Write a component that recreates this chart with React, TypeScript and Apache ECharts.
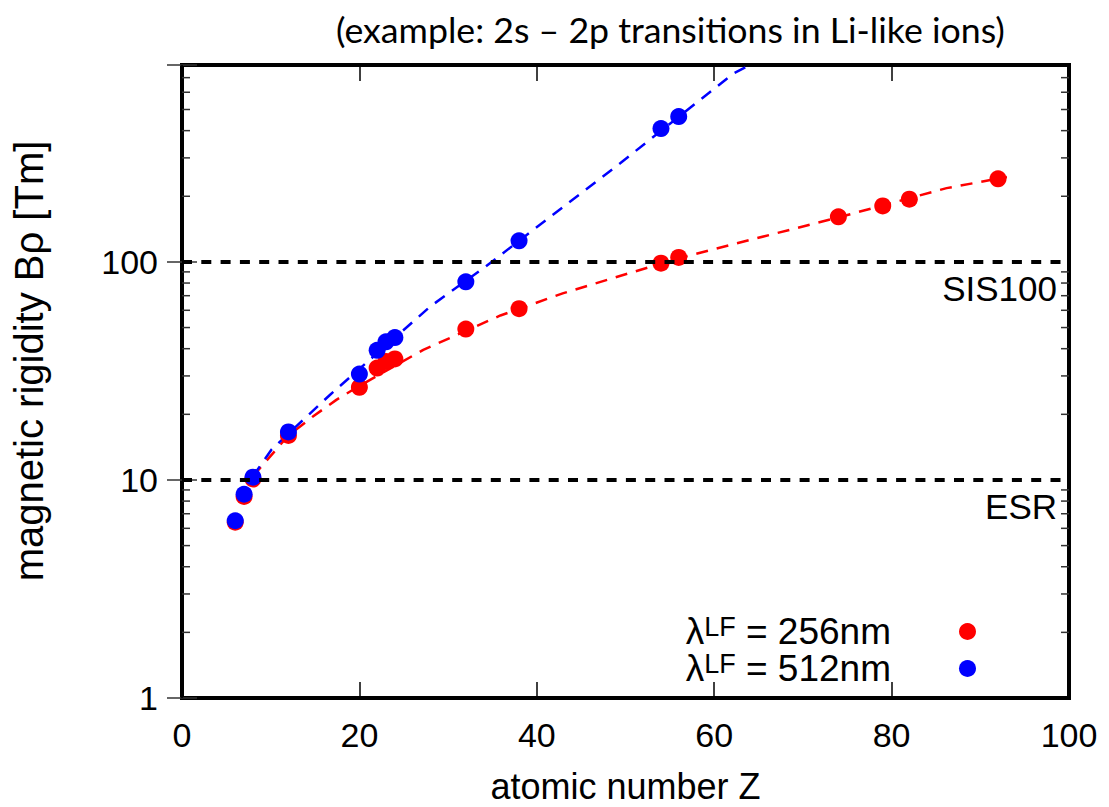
import React, { useEffect, useRef } from 'react';
import * as echarts from 'echarts';

const titleText = '(example: 2s – 2p transitions in Li-like ions)';
const xAxisName = 'atomic number Z';
const yAxisName = 'magnetic rigidity Bρ [Tm]';

const yMinorTicks = [2, 3, 4, 5, 6, 7, 8, 9, 20, 30, 40, 50, 60, 70, 80, 90, 200, 300, 400, 500, 600, 700];

const seriesNames = ['λLF = 256nm', 'λLF = 512nm'];
const legendValues = ['256nm', '512nm'];

// 256 nm laser (red)
const redZ = [6, 7, 8, 12, 20, 22, 23, 24, 32, 38, 54, 56, 74, 79, 82, 92];
const redB = [6.4, 8.4, 10.1, 16.0, 26.6, 32.6, 34.9, 35.9, 49.2, 61.0, 98.7, 104.8, 160.9, 180.7, 194.0, 240.4];

// 512 nm laser (blue)
const blueZ = [6, 7, 8, 12, 20, 22, 23, 24, 32, 38, 54, 56];
const blueB = [6.5, 8.6, 10.3, 16.6, 30.6, 39.3, 43.0, 45.0, 81.0, 124.9, 408.7, 463.9];

// dashed fit curves
const redFitZ = [8, 12, 14.8, 17.4, 20, 27.2, 35.9, 43, 56, 64, 74, 86.2, 93];
const redFitB = [10.4, 16.0, 19.6, 23.3, 27.0, 39.5, 56.8, 71.9, 104, 126, 160, 218, 245];
const blueFitZ = [8, 10.1, 16.7, 28, 34, 49.4, 62.2, 64];
const blueFitB = [10.4, 13.8, 24.6, 62.5, 93.7, 283.6, 733, 800];

const refLevels = [100, 10];
const refNames = ['SIS100', 'ESR'];

const FONT = 'Liberation Sans, Arial, Helvetica, sans-serif';

const zip = (xs: number[], ys: number[]) => xs.map((x, i) => [x, ys[i]]);

export default function App() {
  const ref = useRef<HTMLDivElement>(null);

  useEffect(() => {
    if (!ref.current) return;
    const chart = echarts.init(ref.current, undefined, { renderer: 'svg' });

    const isPow10 = (v: number) => Math.abs(Math.log10(v) - Math.round(Math.log10(v))) < 1e-6 && v < 500;

    const xAxisBase = {
      type: 'value',
      min: 0,
      max: 100,
      interval: 20,
      axisLine: { show: false },
      axisTick: { show: true, inside: true, length: 16, lineStyle: { color: '#000', width: 1.5 } },
      splitLine: { show: false },
    };
    const yAxisBase = {
      type: 'log',
      logBase: 10,
      min: 1,
      max: 800,
      axisLine: { show: false },
      axisTick: { show: true, inside: true, length: 15, lineStyle: { color: '#333', width: 1.5 } },
      splitLine: { show: false },
      minorTick: { show: false },
    };

    const option: any = {
      animation: false,
      backgroundColor: '#fff',
      title: {
        text: titleText,
        left: 331,
        top: 6,
        textStyle: { fontFamily: 'Lato, Open Sans, sans-serif', fontSize: 35.7, fontWeight: 'normal', color: '#000' },
      },
      grid: {
        left: 182,
        right: 40,
        top: 65,
        bottom: 109,
        show: true,
        borderColor: '#000',
        borderWidth: 4,
        backgroundColor: 'transparent',
        outerBoundsMode: 'none',
        containLabel: false,
      },
      legend: {
        data: seriesNames,
        orient: 'vertical',
        right: 128,
        top: 608,
        align: 'right',
        icon: 'circle',
        itemWidth: 17,
        itemHeight: 17,
        itemGap: 0,
        selectedMode: false,
        formatter: (name: string) => {
          const i = seriesNames.indexOf(name);
          return `{a|λ}{s|LF}{b| = ${legendValues[i]}}{g|}`;
        },
        textStyle: {
          color: '#000',
          fontFamily: FONT,
          rich: {
            a: { fontSize: 37, lineHeight: 37, fontFamily: FONT, color: '#000' },
            s: { fontSize: 27, lineHeight: 6, verticalAlign: 'top', fontFamily: FONT, color: '#000' },
            b: { fontSize: 37, lineHeight: 37, fontFamily: FONT, color: '#000' },
            g: { width: 63 },
          },
        },
      },
      xAxis: [
        {
          ...xAxisBase,
          position: 'bottom',
          name: xAxisName,
          nameLocation: 'middle',
          nameGap: 75,
          nameTextStyle: { fontSize: 36, lineHeight: 26, fontFamily: FONT, color: '#000' },
          axisLabel: { show: true, fontSize: 34, fontFamily: FONT, color: '#000', margin: 20 },
        },
        {
          ...xAxisBase,
          position: 'top',
          axisLabel: { show: false },
        },
      ],
      yAxis: [
        {
          ...yAxisBase,
          position: 'left',
          name: yAxisName,
          nameLocation: 'middle',
          nameGap: 133,
          nameTextStyle: { fontSize: 40, fontFamily: FONT, color: '#000', padding: [0, 0, 0, 41] },
          axisLabel: {
            show: true,
            fontSize: 34,
            fontFamily: FONT,
            color: '#000',
            margin: 24,
            formatter: (v: number) => (isPow10(v) ? String(Math.round(v)) : ''),
          },
        },
        {
          ...yAxisBase,
          position: 'right',
          axisLabel: { show: false },
        },
      ],
      series: [
        {
          type: 'custom',
          name: 'minor ticks',
          silent: true,
          xAxisIndex: 0,
          yAxisIndex: 0,
          z: 1,
          data: yMinorTicks.map((v) => [0, v]),
          renderItem: (_params: any, api: any) => {
            const v = api.value(1);
            const pL = api.coord([0, v]);
            const pR = api.coord([100, v]);
            return {
              type: 'group',
              children: [
                { type: 'line', shape: { x1: pL[0], y1: pL[1], x2: pL[0] + 8, y2: pL[1] }, style: { stroke: '#333', lineWidth: 1.5 } },
                { type: 'line', shape: { x1: pR[0] - 8, y1: pR[1], x2: pR[0], y2: pR[1] }, style: { stroke: '#333', lineWidth: 1.5 } },
              ],
            };
          },
        },
        {
          type: 'line',
          name: 'fit 256nm',
          data: zip(redFitZ, redFitB),
          showSymbol: false,
          symbol: 'none',
          smooth: false,
          z: 2,
          lineStyle: { color: '#ff0000', width: 2.5, type: [12, 9] },
          markLine: {
            silent: true,
            symbol: ['none', 'none'],
            lineStyle: { color: '#000', width: 4, type: [10, 9.3] },
            label: {
              show: true,
              position: 'insideEndBottom',
              formatter: (p: any) => p.name,
              fontSize: 35,
              fontFamily: FONT,
              color: '#000',
              distance: [12, 9],
            },
            data: refLevels.map((v, i) => ({ yAxis: v, name: refNames[i] })),
          },
        },
        {
          type: 'line',
          name: 'fit 512nm',
          data: zip(blueFitZ, blueFitB),
          showSymbol: false,
          symbol: 'none',
          smooth: false,
          z: 2,
          lineStyle: { color: '#0000ff', width: 2.5, type: [12, 9] },
        },
        {
          type: 'scatter',
          name: seriesNames[0],
          data: zip(redZ, redB),
          symbol: 'circle',
          symbolSize: 17,
          z: 3,
          itemStyle: { color: '#ff0000', opacity: 1 },
        },
        {
          type: 'scatter',
          name: seriesNames[1],
          data: zip(blueZ, blueB),
          symbol: 'circle',
          symbolSize: 17,
          z: 4,
          itemStyle: { color: '#0000ff', opacity: 1 },
        },
      ],
    };

    chart.setOption(option);
    return () => chart.dispose();
  }, []);

  return (
    <div
      ref={ref}
      style={{ position: 'absolute', left: 0, top: 0, width: 1109, height: 807, background: '#fff' }}
    />
  );
}
